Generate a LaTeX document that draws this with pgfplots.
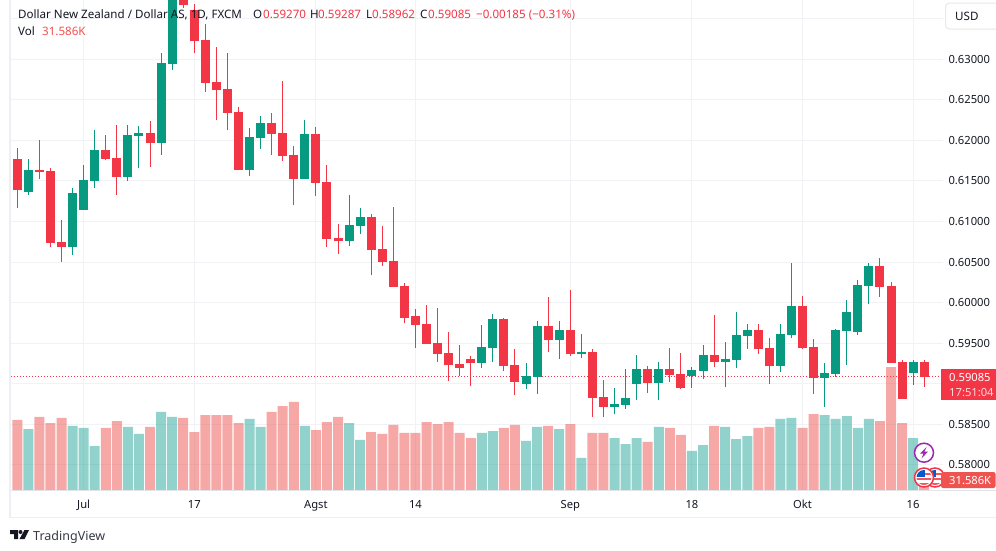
\documentclass[border=0pt]{standalone}
\usepackage{fontspec}
\setmainfont{Noto Sans}
\usepackage{pgfplots}
\usepackage{pgfplotstable}
\pgfplotsset{compat=1.18}
\definecolor{tvred}{HTML}{F23645}
\definecolor{tvgreen}{HTML}{089981}
\definecolor{volred}{HTML}{EF5350}
\definecolor{volgreen}{HTML}{26A69A}
\definecolor{tvtext}{HTML}{131722}
\definecolor{tvgrid}{HTML}{F1F2F5}
\definecolor{tvframe}{HTML}{EEEFF4}
\definecolor{tvpurple}{HTML}{9C27B0}

% daily candles, volume in thousands
\pgfplotstableread{
i o h l c v
1 .61364 .61771 .61327 .61635 175
5 .60685 .61413 .60587 .61351 184
6 .61142 .61697 .61142 .61512 178
7 .61499 .62128 .61413 .61881 126
10 .61549 .62190 .61499 .62066 181
11 .62054 .62177 .61660 .62091 161
13 .61968 .63078 .61820 .62954 224
14 .62942 .64039 .62868 .63916 210
21 .61635 .62153 .61561 .62042 204
22 .62029 .62301 .61894 .62214 181
26 .61524 .62251 .61524 .62079 184
30 .60759 .61327 .60698 .60957 192
31 .60944 .61166 .60846 .61055 144
42 .59255 .59724 .59194 .59452 164
43 .59440 .59859 .59268 .59798 169
46 .58996 .59255 .58935 .59095 141
47 .59083 .59773 .58873 .59711 181
49 .59539 .59773 .59305 .59662 175
51 .59366 .59613 .59317 .59391 92
54 .58713 .58947 .58626 .58750 149
55 .58737 .59181 .58688 .58824 132
56 .58996 .59354 .58799 .59181 149
58 .59009 .59268 .58799 .59181 181
61 .59095 .59206 .58947 .59169 112
62 .59157 .59477 .59058 .59354 129
64 .59268 .59514 .58959 .59305 181
65 .59292 .59884 .59194 .59600 146
66 .59588 .59736 .59428 .59662 155
69 .59218 .59736 .59144 .59613 204
70 .59600 .60488 .59563 .59958 207
73 .59070 .59255 .58713 .59132 215
74 .59120 .59674 .59083 .59662 204
75 .59650 .60032 .59231 .59884 212
76 .59637 .60279 .59600 .60217 178
77 .60205 .60488 .59983 .60451 204
81 .59132 .59292 .58984 .59268 149
}\upbars

\pgfplotstableread{
i o h l c v
0 .61771 .61906 .61170 .61388 201
2 .61635 .62005 .61524 .61610 210
3 .61623 .61660 .60685 .60735 192
4 .60747 .61018 .60501 .60685 207
8 .61881 .62066 .61758 .61771 178
9 .61783 .62190 .61327 .61549 198
12 .62091 .62239 .61672 .61968 181
15 .63793 .63978 .63632 .63669 207
16 .63608 .63682 .63078 .63225 166
17 .63238 .63435 .62597 .62708 215
18 .62720 .63151 .62251 .62621 215
19 .62634 .63078 .62128 .62338 215
20 .62350 .62412 .61630 .61635 192
23 .62214 .62338 .61820 .62079 224
24 .62091 .62732 .61746 .61808 241
25 .61820 .61931 .61203 .61524 253
27 .62079 .62165 .61314 .61475 172
28 .61487 .61697 .60685 .60784 195
29 .60796 .60969 .60599 .60759 210
32 .61055 .61092 .60340 .60648 166
33 .60661 .60944 .60451 .60501 161
34 .60513 .61179 .60188 .60192 187
35 .60205 .60242 .59748 .59810 164
36 .59835 .59921 .59440 .59724 164
37 .59736 .59970 .59489 .59489 195
38 .59502 .59933 .59268 .59366 189
39 .59379 .59637 .59033 .59231 195
40 .59243 .59477 .59095 .59194 164
41 .59305 .59342 .58972 .59255 149
44 .59798 .59805 .59157 .59218 178
45 .59231 .59428 .58861 .59021 187
48 .59711 .60069 .59391 .59539 184
50 .59662 .60155 .59342 .59366 189
52 .59391 .59428 .58589 .58824 164
53 .58836 .59046 .58589 .58713 164
57 .59181 .59218 .58885 .59009 138
59 .59181 .59440 .59021 .59107 178
60 .59120 .59379 .58935 .58947 158
63 .59354 .59847 .59206 .59268 184
67 .59662 .59736 .59366 .59428 178
68 .59440 .59563 .58996 .59218 181
71 .59958 .60081 .59428 .59440 178
72 .59452 .59551 .58873 .59070 218
78 .60451 .60550 .60069 .60192 198
79 .60205 .60254 .59250 .59255 353
80 .59268 .59292 .58806 .58811 192
82 .59270 .59287 .58962 .59085 31.586
}\downbars

\pgfplotsset{
  chartframe/.style={
    at={(11pt,-490pt)}, anchor=south west,
    scale only axis, width=932pt, height=490pt,
    xmin=-0.57, xmax=83.70,
  },
  wick/.style={draw=none, no markers, forget plot,
    error bars/.cd, y dir=plus, y explicit, error mark=none,
    error bar style={line width=1pt, draw=#1}},
  body/.style={draw=none, no markers, forget plot,
    error bars/.cd, y dir=plus, y explicit, error mark=none,
    error bar style={line width=9pt, draw=#1}},
  volbar/.style={ybar, bar width=10pt, bar shift=0pt, draw=none, fill=#1, fill opacity=0.5, forget plot},
}

\begin{document}
\begin{tikzpicture}[font=\fontsize{11.6}{13}\selectfont]
\useasboundingbox (0,0) rectangle (996pt,-550pt);
\fill[white] (0,0) rectangle (996pt,-550pt);

\begin{axis}[
  chartframe,
  ymin=0.57689, ymax=0.63731,
  xtick={6,16,27,36,50,61,71,81},
  xticklabels={Jul,17,Agst,14,Sep,18,Okt,16},
  ytick={0.58,0.585,0.595,0.6,0.605,0.61,0.615,0.62,0.625,0.63},
  extra y ticks={0.59,0.635},
  extra y tick labels={},
  yticklabel pos=right,
  scaled y ticks=false,
  grid=major,
  major grid style={line width=1pt, draw=tvgrid},
  axis line style={draw=none},
  major tick length=0pt,
  tick label style={font=\fontsize{11.2}{13}\selectfont},
  xticklabel style={text=tvtext, anchor=base, yshift=-18.5pt},
  yticklabel style={text=tvtext, anchor=west, xshift=2pt,
    /pgf/number format/.cd, fixed, fixed zerofill, precision=5, assume math mode=true},
]
\addplot[tvred, line width=1pt, dash pattern=on 1pt off 2pt, forget plot] coordinates {(-0.57,0.59085) (83.70,0.59085)};

\addplot[wick=tvgreen] table[x=i, y=l, y error plus expr=\thisrow{h}-\thisrow{l}] {\upbars};
\addplot[body=tvgreen] table[x=i, y=o, y error plus expr=\thisrow{c}-\thisrow{o}] {\upbars};
\addplot[wick=tvred] table[x=i, y=l, y error plus expr=\thisrow{h}-\thisrow{l}] {\downbars};
\addplot[body=tvred] table[x=i, y=c, y error plus expr=\thisrow{o}-\thisrow{c}] {\downbars};
\end{axis}

\begin{axis}[
  chartframe,
  hide axis,
  ymin=0, ymax=1406.3,
]
\addplot[volbar=volgreen] table[x=i, y=v] {\upbars};
\addplot[volbar=volred] table[x=i, y=v] {\downbars};
\end{axis}

\begin{scope}[x=1pt, y=-1pt]
% frame
\draw[tvframe, line width=1.5pt] (10.2,0) -- (10.2,517.5) -- (996,517.5);
\draw[tvframe!90!gray, line width=1pt] (11,490.5) -- (996,490.5);

% legend lines
\begin{scope}[every node/.style={anchor=base west, inner sep=0pt, text=tvtext}]
\node at (18,18) {Dollar New Zealand / Dollar AS, 1D, FXCM};
\node at (253,18) {O}; \node[text=tvred] at (263,18) {0.59270};
\node at (310,18) {H}; \node[text=tvred] at (318,18) {0.59287};
\node at (366,18) {L}; \node[text=tvred] at (372,18) {0.58962};
\node at (420,18) {C}; \node[text=tvred] at (428,18) {0.59085};
\node[text=tvred] at (476,18) {−0.00185 (−0.31\%)};
\node at (18,35) {Vol};
\node[text=volred] at (42,35) {31.586K};
\end{scope}

% currency button
\filldraw[fill=white, draw=tvframe!80!gray!60, line width=1pt, rounded corners=4pt] (945.5,3) rectangle (1010,29);
\node[anchor=base west, inner sep=0pt, text=tvtext] at (955,20) {USD};

% last price label
\fill[tvred] (941,369) rectangle (996,400);
\node[anchor=base west, inner sep=0pt, text=white, font=\fontsize{11.2}{12}\selectfont] at (949,381.5) {0.59085};
\node[anchor=base west, inner sep=0pt, text=white!80!tvred, font=\fontsize{11.2}{12}\selectfont] at (949,396.5) {17:51:04};

% event icons
\filldraw[fill=white, draw=tvpurple, line width=1.5pt] (924,452.7) circle (9.5);
\fill[tvpurple] (926.5,447) -- (920,453.5) -- (923.5,453.5) -- (921.5,458.5) -- (928,451.5) -- (924.5,451.5) -- cycle;
\foreach \cx in {935,924}{
  \filldraw[fill=white, draw=tvred, line width=1.5pt] (\cx,477.5) circle (9.5);
  \begin{scope}
    \clip (\cx,477.5) circle (7.5);
    \fill[tvred!85!white] (\cx-8,478) rectangle (\cx+8,480);
    \fill[tvred!85!white] (\cx-8,483) rectangle (\cx+8,485);
    \fill[tvred!85!white] (\cx,473) rectangle (\cx+8,475);
    \fill[blue!55!cyan!80!black] (\cx-8,470) rectangle (\cx+0.5,477);
  \end{scope}
}

% volume label
\fill[volred, rounded corners=2pt] (941,472) rectangle (995.5,488);
\node[anchor=base west, inner sep=0pt, text=white, font=\fontsize{11.2}{12}\selectfont] at (949,484) {31.586K};

% logo
\fill[tvtext] (10,530) -- (18,530) -- (18,539) -- (14,539) -- (14,534) -- (10,534) -- cycle;
\fill[tvtext] (20.5,532) circle (2);
\fill[tvtext] (24.5,530) -- (29,530) -- (24.5,539) -- (19.5,539) -- cycle;
\node[anchor=base west, inner sep=0pt, text=tvtext!85!white, font=\fontsize{12.5}{15}\selectfont] at (33,540) {TradingView};
\end{scope}
\end{tikzpicture}
\end{document}
